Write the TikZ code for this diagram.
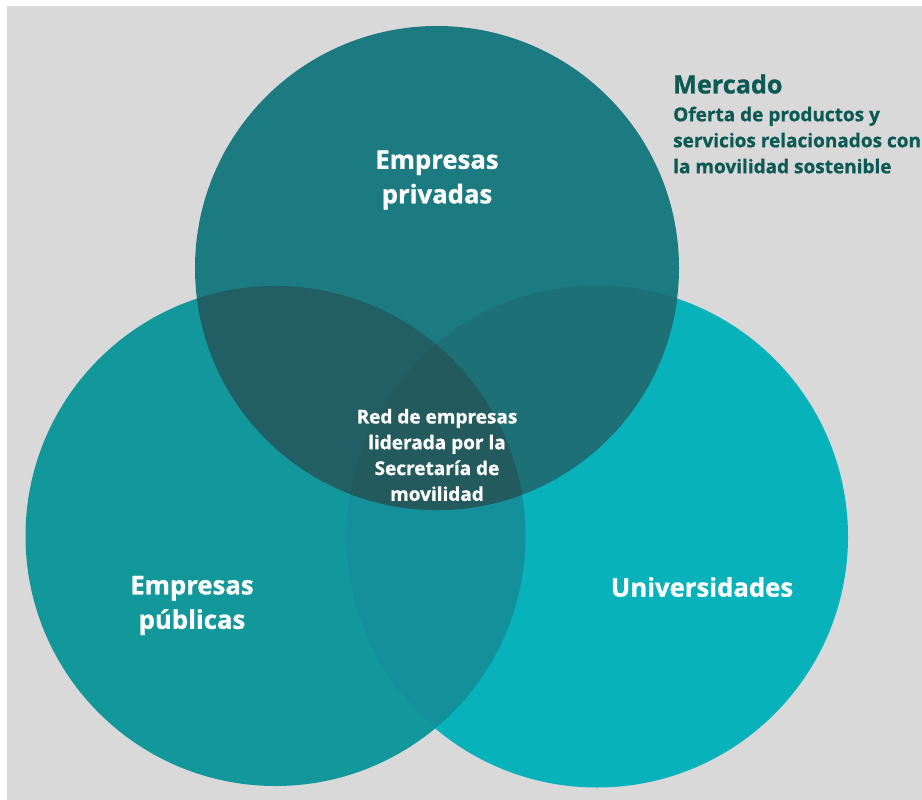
\documentclass[tikz,border=0pt]{standalone}
\usepackage{fontspec}
\setmainfont{Open Sans}[BoldFeatures={FakeBold=0.9}]
\definecolor{bggray}{HTML}{D9D9D9}
\definecolor{topc}{HTML}{1B7B80}
\definecolor{leftc}{HTML}{12979A}
\definecolor{rightc}{HTML}{07B2BB}
\definecolor{tlc}{HTML}{215F64}
\definecolor{trc}{HTML}{1D7075}
\definecolor{lrc}{HTML}{13909A}
\definecolor{midc}{HTML}{225A5E}
\definecolor{mercc}{HTML}{0D5A55}
\begin{document}
\begin{tikzpicture}[x=1pt,y=-1pt,
  bigtxt/.style={text=white,font=\bfseries\fontsize{25.7}{34.5}\selectfont,align=center},
  smalltxt/.style={text=white,font=\bfseries\fontsize{19}{25.8}\selectfont,align=center},
  merctitle/.style={text=mercc,font=\bfseries\fontsize{25.2}{26}\selectfont,anchor=west,inner sep=0pt},
  mercbody/.style={text=mercc,font=\bfseries\fontsize{19}{26}\selectfont,align=left,anchor=north west,inner sep=0pt}]
\useasboundingbox (0,0) rectangle (922,800);
\fill[white] (0,0) rectangle (922,800);
\fill[bggray] (7,6) rectangle (922,800);
% circles
\def\circT{(437,268) circle[radius=242]}
\def\circL{(275.5,536) circle[radius=250]}
\def\circR{(597,536.5) circle[radius=251]}
\fill[leftc] \circL;
\fill[rightc] \circR;
\fill[topc] \circT;
\begin{scope}
  \clip \circL;
  \fill[lrc] \circR;
\end{scope}
\begin{scope}
  \clip \circT;
  \fill[tlc] \circL;
  \fill[trc] \circR;
  \begin{scope}
    \clip \circL;
    \fill[midc] \circR;
  \end{scope}
\end{scope}
% labels
\node[bigtxt] (priv) at (437,180) {Empresas\\privadas};
\node[bigtxt] (pub) at (192,605.5) {Empresas\\públicas};
\node[bigtxt] (univ) at (702,587) {Universidades};
\node[smalltxt] (red) at (437,455) {Red de empresas\\liderada por la\\Secretaría de\\movilidad};
\node[merctitle] (merc) at (673,84) {Mercado};
\node[mercbody] (oferta) at (673,106.5) {Oferta de productos y\\servicios relacionados con\\la movilidad sostenible};
\end{tikzpicture}
\end{document}
